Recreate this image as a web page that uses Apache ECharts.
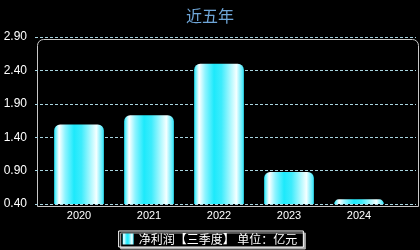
<!DOCTYPE html>
<html>
<head>
<meta charset="utf-8">
<script src="https://cdn.jsdelivr.net/npm/echarts@6/dist/echarts.min.js"></script>
<style>html,body{margin:0;padding:0;background:#000;}#c{width:420px;height:250px;}</style>
</head>
<body>
<div id="c"></div>
<script>
var categories = ['2020', '2021', '2022', '2023', '2024'];
var profitValues = [1.59, 1.73, 2.50, 0.88, 0.47];
var seriesName = '净利润【三季度】 单位：亿元';
var titleText = '近五年';
var yMin = 0.4, yMax = 2.9, yStep = 0.5;

var chart = echarts.init(document.getElementById('c'), null, {renderer: 'canvas'});
var barGrad = new echarts.graphic.LinearGradient(0, 0, 1, 0, [
  {offset: 0, color: '#22e8fb'},
  {offset: 0.1, color: '#ffffff'},
  {offset: 0.22, color: '#8ff4ff'},
  {offset: 0.4, color: '#1de9fb'},
  {offset: 0.55, color: '#3eecfc'},
  {offset: 0.85, color: '#f4ffff'},
  {offset: 1, color: '#30e6fb'}
]);
chart.setOption({
  backgroundColor: '#000',
  animation: false,
  title: {
    text: titleText, left: 'center', top: 3,
    textStyle: {color: '#6fa6d8', fontSize: 16, fontWeight: 'normal', fontFamily: 'Noto Sans CJK SC'}
  },
  grid: [
    {left: 35, right: 4, top: 37, bottom: 46},
    {left: 44, right: 26, top: 37, bottom: 46}
  ],
  graphic: [{
    type: 'rect', left: 35, top: 37, silent: true, z: 0,
    shape: {width: 381, height: 167, r: [6, 6, 0, 0]},
    style: {fill: 'none', stroke: '#c8c8c8', lineWidth: 1}
  }],
  legend: {
    bottom: 3, left: 'center',
    data: [seriesName],
    itemWidth: 11, itemHeight: 11, itemGap: 5,
    borderColor: '#ffffff', borderWidth: 1, padding: [2, 6, 2, 4],
    shadowColor: 'rgba(170,170,170,1)', shadowOffsetX: 2, shadowOffsetY: 2, shadowBlur: 0,
    backgroundColor: '#000',
    textStyle: {color: '#ffffff', fontSize: 12, fontFamily: 'Noto Sans CJK SC'},
    icon: 'rect'
  },
  xAxis: [
    {type: 'category', gridIndex: 0, data: categories, show: false},
    {
      type: 'category', gridIndex: 1, data: categories,
      axisLine: {show: false},
      axisTick: {show: false},
      axisLabel: {color: '#ffffff', fontSize: 11, margin: 6, fontFamily: 'Arial'}
    }
  ],
  yAxis: [
    {
      type: 'value', gridIndex: 0, min: yMin, max: yMax, interval: yStep,
      axisLine: {show: false},
      axisTick: {show: false},
      axisLabel: {color: '#ffffff', fontSize: 12, margin: 8, fontFamily: 'Arial',
        formatter: function (v) { return v.toFixed(2); }},
      splitLine: {show: true, lineStyle: {color: '#a8d4e0', type: [3, 2], width: 1}}
    },
    {
      type: 'value', gridIndex: 1, min: yMin, max: yMax, interval: yStep, show: false,
      splitLine: {show: false}
    }
  ],
  series: [{
    name: seriesName, type: 'bar', data: profitValues,
    xAxisIndex: 1, yAxisIndex: 1,
    barWidth: '71%',
    itemStyle: {color: barGrad, borderRadius: [6, 6, 0, 0]}
  }]
});
</script>
</body>
</html>
